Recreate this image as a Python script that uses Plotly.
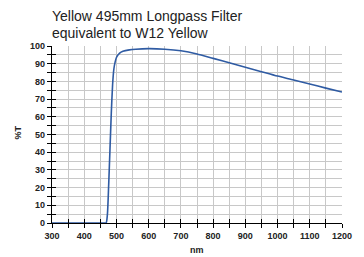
import plotly.graph_objects as go

wavelength_nm = [300, 400, 460, 468, 472, 476, 480, 484, 488, 492, 496, 500, 510, 520,
                 540, 560, 600, 650, 700, 750, 800, 850, 900, 950, 1000, 1050, 1100, 1150, 1200]
transmission_pct = [0, 0, 0, 0, 5, 22, 42, 62, 78, 87, 91, 93.5, 96, 97,
                    97.8, 98.2, 98.5, 98.2, 97.3, 95.5, 93, 90.5, 88, 85.5, 83, 80.8, 78.5, 76.2, 74]
x_ticks = [300, 400, 500, 600, 700, 800, 900, 1000, 1100, 1200]
y_ticks = [0, 10, 20, 30, 40, 50, 60, 70, 80, 90, 100]
title_lines = ["Yellow 495mm Longpass Filter", "equivalent to W12 Yellow"]

FONT = "Liberation Sans, Arial"
fig = go.Figure()
fig.add_trace(go.Scatter(x=wavelength_nm, y=transmission_pct, mode="lines",
                         line=dict(color="#2f5ba3", width=1.6, shape="spline", smoothing=0.6),
                         showlegend=False, hoverinfo="skip"))
# invisible trace to make the inner-tick overlay axes render
fig.add_trace(go.Scatter(x=[wavelength_nm[0]], y=[transmission_pct[0]], xaxis="x2", yaxis="y2",
                         mode="markers", marker=dict(opacity=0), showlegend=False, hoverinfo="skip"))

axis_font = dict(family=FONT, size=9, color="#222", weight="bold")
fig.update_layout(
    width=356, height=249,
    margin=dict(l=44, r=22, t=38, b=34),
    paper_bgcolor="white", plot_bgcolor="white",
    xaxis=dict(range=[300, 1200], tickvals=x_ticks, ticktext=[str(v) for v in x_ticks],
               automargin=False,
               showgrid=True, gridcolor="#c8c8c8", gridwidth=1,
               minor=dict(dtick=50, tick0=300, showgrid=True, gridcolor="#c8c8c8", ticks="outside",
                          ticklen=4, tickcolor="#000"),
               ticks="outside", ticklen=4, tickcolor="#000",
               showline=True, linecolor="#000", linewidth=1.2, zeroline=False,
               tickfont=axis_font),
    yaxis=dict(range=[0, 100], tickvals=y_ticks, ticktext=[str(v) for v in y_ticks],
               automargin=False,
               showgrid=True, gridcolor="#c8c8c8", gridwidth=1,
               minor=dict(dtick=5, tick0=0, showgrid=True, gridcolor="#c8c8c8", ticks="outside",
                          ticklen=4, tickcolor="#000"),
               ticks="outside", ticklen=4, tickcolor="#000",
               showline=True, linecolor="#000", linewidth=1.2, zeroline=False,
               tickfont=axis_font),
    xaxis2=dict(range=[300, 1200], overlaying="x", anchor="y", side="bottom", dtick=50, tick0=300,
                automargin=False,
                ticks="inside", ticklen=4, tickcolor="#000", showticklabels=False,
                showgrid=False, zeroline=False, showline=False),
    yaxis2=dict(range=[0, 100], overlaying="y", anchor="x", side="left", dtick=5, tick0=0,
                automargin=False,
                ticks="inside", ticklen=4, tickcolor="#000", showticklabels=False,
                showgrid=False, zeroline=False, showline=False),
)
for i, line in enumerate(title_lines):
    fig.add_annotation(text=line, xref="paper", yref="paper", x=0, y=1, xanchor="left", yanchor="bottom",
                       xshift=-1, yshift=21 - 17 * i, showarrow=False, borderpad=0,
                       font=dict(family=FONT, size=14, color="#222"))
# axis titles
fig.add_annotation(text="<b>nm</b>", xref="paper", yref="paper", x=0.5, y=0, yanchor="top",
                   yshift=-21, showarrow=False, borderpad=0,
                   font=dict(family=FONT, size=9, color="#222"))
fig.add_annotation(text="<b>%T</b>", xref="paper", yref="paper", x=0, y=0.5, xanchor="center",
                   xshift=-35, yshift=2, textangle=-90, showarrow=False, borderpad=0,
                   font=dict(family=FONT, size=9, color="#222"))
fig.write_html("out.html")
